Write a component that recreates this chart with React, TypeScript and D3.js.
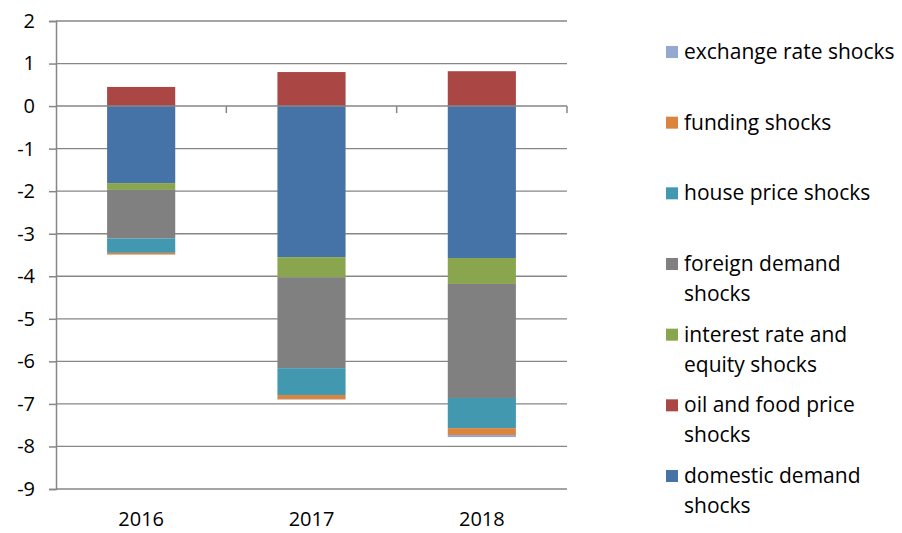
import React, { useEffect, useRef } from 'react'
import * as d3 from 'd3'

const years = ['2016', '2017', '2018']

// stack order from the zero line outwards
const domesticDemand = [-1.81, -3.55, -3.57]
const oilFood = [0.45, 0.8, 0.82]
const interestRate = [-0.16, -0.47, -0.61]
const foreignDemand = [-1.14, -2.14, -2.68]
const housePrice = [-0.34, -0.63, -0.71]
const funding = [-0.04, -0.1, -0.16]
const exchangeRate = [0, -0.01, -0.05]

const seriesKeys = ['domestic', 'oil', 'interest', 'foreign', 'house', 'funding', 'exchange']
const seriesValues: Record<string, number[]> = {
  domestic: domesticDemand,
  oil: oilFood,
  interest: interestRate,
  foreign: foreignDemand,
  house: housePrice,
  funding: funding,
  exchange: exchangeRate
}
const seriesColors: Record<string, string> = {
  domestic: '#4572A7',
  oil: '#AA4643',
  interest: '#89A54E',
  foreign: '#808080',
  house: '#4198AF',
  funding: '#DB843D',
  exchange: '#93A9CF'
}

// legend, top to bottom
const legendKeys = ['exchange', 'funding', 'house', 'foreign', 'interest', 'oil', 'domestic']
const legendLabels: Record<string, string[]> = {
  exchange: ['exchange rate shocks'],
  funding: ['funding shocks'],
  house: ['house price shocks'],
  foreign: ['foreign demand', 'shocks'],
  interest: ['interest rate and', 'equity shocks'],
  oil: ['oil and food price', 'shocks'],
  domestic: ['domestic demand', 'shocks']
}

const yTicks = d3.range(-9, 3, 1)

const App: React.FC = () => {
  const svgRef = useRef<SVGSVGElement>(null)

  useEffect(() => {
    if (!svgRef.current) return
    const svg = d3.select(svgRef.current)
    svg.selectAll('*').remove()

    const left = 56, right = 567, top = 21, bottom = 489
    const font = '"Open Sans", Lato, sans-serif'

    const x = d3.scaleBand().domain(years).range([left, right]).paddingInner(0.6).paddingOuter(0.3)
    const xOuter = d3.scaleBand().domain(years).range([left, right])
    const y = d3.scaleLinear().domain([-9, 2]).range([bottom, top])

    const rows = years.map((yr, i) => {
      const row: Record<string, any> = { year: yr }
      seriesKeys.forEach(k => { row[k] = seriesValues[k][i] })
      return row
    })
    const stacked = d3.stack<any>().keys(seriesKeys).offset(d3.stackOffsetDiverging)(rows)

    // gridlines
    svg.append('g')
      .selectAll('line')
      .data(yTicks.filter(t => t !== 0))
      .enter()
      .append('line')
      .attr('x1', left)
      .attr('x2', right)
      .attr('y1', d => y(d))
      .attr('y2', d => y(d))
      .attr('stroke', '#868686')
      .attr('stroke-width', 1.3)

    // bars
    stacked.forEach(s => {
      svg.append('g')
        .selectAll('rect')
        .data(s)
        .enter()
        .append('rect')
        .attr('x', d => x(d.data.year)!)
        .attr('width', x.bandwidth())
        .attr('y', d => y(Math.max(d[0], d[1])))
        .attr('height', d => Math.abs(y(d[0]) - y(d[1])))
        .attr('fill', seriesColors[s.key])
    })

    // zero axis with category ticks
    svg.append('line')
      .attr('x1', left).attr('x2', right)
      .attr('y1', y(0)).attr('y2', y(0))
      .attr('stroke', '#868686').attr('stroke-width', 1.5)
    svg.append('g')
      .selectAll('line')
      .data(years)
      .enter()
      .append('line')
      .attr('x1', d => xOuter(d)! + xOuter.bandwidth())
      .attr('x2', d => xOuter(d)! + xOuter.bandwidth())
      .attr('y1', y(0))
      .attr('y2', y(0) + 7)
      .attr('stroke', '#868686').attr('stroke-width', 1.5)

    // left axis
    const yAxis = svg.append('g')
      .attr('transform', `translate(${left},0)`)
      .call(d3.axisLeft(y).tickValues(yTicks).tickSize(7).tickPadding(14).tickFormat(d3.format('d')))
    yAxis.select('.domain').attr('stroke', '#868686').attr('stroke-width', 1.5)
    yAxis.selectAll('.tick line').attr('stroke', '#868686').attr('stroke-width', 1.5)
    yAxis.selectAll('.tick text')
      .attr('fill', '#000')
      .style('font-family', font)
      .style('font-size', '20px')
      .text((d: any) => (d < 0 ? '-' + Math.abs(d) : String(d)))

    // category labels
    svg.append('g')
      .selectAll('text')
      .data(years)
      .enter()
      .append('text')
      .attr('x', d => x(d)! + x.bandwidth() / 2)
      .attr('y', 526)
      .attr('text-anchor', 'middle')
      .style('font-family', font)
      .style('font-size', '20px')
      .text(d => d)

    // legend
    const itemY = d3.scaleLinear().domain([0, legendKeys.length - 1]).range([52, 476])
    const lg = svg.append('g')
    legendKeys.forEach((k, i) => {
      const cy = itemY(i)
      lg.append('rect')
        .attr('x', 666).attr('y', cy - 6)
        .attr('width', 12).attr('height', 12)
        .attr('fill', seriesColors[k])
      legendLabels[k].forEach((line, j) => {
        lg.append('text')
          .attr('x', 684)
          .attr('y', cy + 7 + j * 30)
          .style('font-family', font)
          .style('font-size', '21px')
          .text(line)
      })
    })
  }, [])

  return <svg ref={svgRef} width={902} height={533} style={{ position: 'absolute', left: 0, top: 0, background: '#fff' }} />
}

export default App
